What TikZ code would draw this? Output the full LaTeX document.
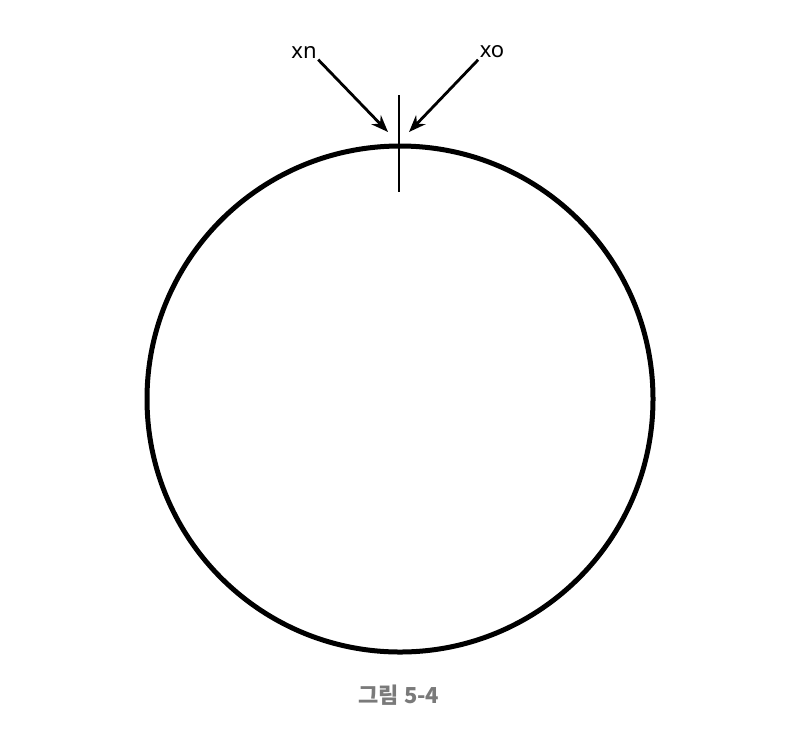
\documentclass[tikz,border=0pt]{standalone}
\usepackage{fontspec}
\setmainfont{Noto Sans}
\newfontfamily\krfont{Noto Sans CJK KR}
\usepackage{xcolor}
\usetikzlibrary{arrows.meta,positioning}
\definecolor{capgray}{HTML}{7A7A7A}

\begin{document}
\begin{tikzpicture}[x=1pt,y=-1pt,>={Stealth[length=17pt,width=13pt]},
  lbl/.style={font=\fontsize{22}{24}\selectfont,inner sep=0pt},
  ptr/.style={->,line width=2.8pt,shorten <=2pt}]
  \useasboundingbox (0,0) rectangle (794,740);

  % ring and the cut
  \draw[line width=5pt] (400,399) circle[radius=253];
  \draw[line width=2.6pt] (399,95)--(399,192);

  % labels with pointers
  \node[lbl] (xn) at (304,52) {xn};
  \node[lbl] (xo) at (492,52) {xo};
  \coordinate (tipn) at (388,132);
  \coordinate (tipo) at (409,132);
  \draw[ptr] (xn.south east) -- (tipn);
  \draw[ptr] (xo.south west) -- (tipo);

  % caption
  \node[font=\krfont\bfseries\fontsize{22}{24}\selectfont,text=capgray] (cap) at (399,695) {그림 5-4};
\end{tikzpicture}
\end{document}
